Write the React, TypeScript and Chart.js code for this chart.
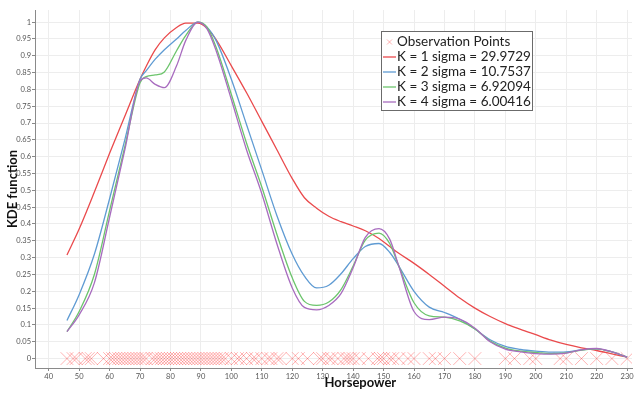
import React, { useEffect, useRef } from "react";
import { Chart, registerables } from "chart.js";

Chart.register(...registerables);

const hpGrid = [46, 50, 55, 60, 65, 70, 72, 75, 78, 82, 85, 89, 92, 95, 100, 105, 110, 115, 120, 124, 128, 132, 136, 140, 144, 148.5, 152, 155, 160, 165, 170, 175, 180, 185, 190, 195, 200, 205, 210, 215, 220, 225, 230];

const kdeK1 = [0.308, 0.385, 0.495, 0.61, 0.72, 0.83, 0.868, 0.918, 0.953, 0.984, 0.997, 0.997, 0.982, 0.948, 0.87, 0.79, 0.705, 0.62, 0.535, 0.478, 0.447, 0.423, 0.407, 0.394, 0.38, 0.357, 0.333, 0.313, 0.283, 0.25, 0.215, 0.18, 0.15, 0.125, 0.104, 0.087, 0.071, 0.055, 0.042, 0.032, 0.024, 0.014, 0.004];
const kdeK2 = [0.113, 0.19, 0.31, 0.475, 0.65, 0.83, 0.855, 0.89, 0.918, 0.95, 0.975, 1.0, 0.985, 0.945, 0.83, 0.695, 0.56, 0.424, 0.31, 0.245, 0.21, 0.218, 0.252, 0.297, 0.333, 0.342, 0.316, 0.275, 0.2, 0.153, 0.137, 0.117, 0.088, 0.056, 0.036, 0.027, 0.022, 0.019, 0.02, 0.026, 0.029, 0.02, 0.004];
const kdeK3 = [0.08, 0.14, 0.25, 0.44, 0.63, 0.82, 0.838, 0.843, 0.852, 0.915, 0.96, 1.0, 0.985, 0.925, 0.785, 0.64, 0.51, 0.368, 0.24, 0.17, 0.158, 0.168, 0.205, 0.275, 0.352, 0.373, 0.342, 0.275, 0.166, 0.127, 0.123, 0.112, 0.088, 0.052, 0.031, 0.022, 0.018, 0.015, 0.017, 0.025, 0.029, 0.02, 0.004];
const kdeK4 = [0.08, 0.13, 0.225, 0.42, 0.62, 0.825, 0.834, 0.815, 0.805, 0.87, 0.945, 1.0, 0.98, 0.915, 0.77, 0.62, 0.49, 0.34, 0.21, 0.152, 0.145, 0.158, 0.193, 0.27, 0.36, 0.386, 0.355, 0.275, 0.14, 0.116, 0.123, 0.117, 0.09, 0.05, 0.028, 0.02, 0.015, 0.013, 0.016, 0.026, 0.03, 0.02, 0.004];

// Observed horsepower values (crosses on the zero line)
const observations = [46, 48, 49, 52, 53, 54, 58, 60, 61, 62, 63, 64, 65, 66, 67, 68, 69, 70, 71, 72, 74, 75, 76, 77, 78, 79, 80, 81, 82, 83, 84, 85, 86, 87, 88, 89, 90, 91, 92, 93, 94, 95, 96, 97, 98, 100, 102, 103, 105, 107, 108, 110, 112, 113, 115, 116, 120, 122, 125, 129, 130, 132, 133, 135, 137, 138, 139, 140, 142, 145, 148, 149, 150, 152, 153, 155, 158, 160, 165, 167, 170, 175, 180, 190, 193, 198, 200, 208, 210, 215, 220, 225, 230];

const obsLabel = "Observation Points";
const seriesLabels = ["K = 1 sigma = 29.9729", "K = 2 sigma = 10.7537", "K = 3 sigma = 6.92094", "K = 4 sigma = 6.00416"];
const seriesValues = [kdeK1, kdeK2, kdeK3, kdeK4];
const seriesColors = ["#ea4a4c", "#5f9bd3", "#6cc46c", "#a86cbf"];
const obsColor = "rgba(255,0,0,0.3)";

const xTitle = "Horsepower";
const yTitle = "KDE function";

const FONT = "Lato, 'Open Sans', sans-serif";

const overlayPlugin = {
  id: "overlay",
  afterDraw(chart: any) {
    const ctx = chart.ctx;
    const area = chart.chartArea;
    ctx.save();
    // axis titles
    ctx.fillStyle = "#111";
    ctx.font = `bold 13px ${FONT}`;
    ctx.textAlign = "center";
    ctx.textBaseline = "middle";
    ctx.fillText(xTitle, area.left + (area.right - area.left) * 0.545, 383);
    ctx.save();
    ctx.translate(12.5, (area.top + area.bottom) / 2);
    ctx.rotate(-Math.PI / 2);
    ctx.fillText(yTitle, 0, 0);
    ctx.restore();

    // legend box
    const bx = 381.5, by = 31.5, bw = 151, bh = 79;
    ctx.fillStyle = "#fff";
    ctx.fillRect(bx, by, bw, bh);
    ctx.strokeStyle = "#6b6b6b";
    ctx.lineWidth = 1;
    ctx.strokeRect(bx, by, bw, bh);
    ctx.font = `13.5px ${FONT}`;
    ctx.textAlign = "left";
    ctx.textBaseline = "middle";
    const rowY = (i: number) => 42 + i * 15;
    // observation marker
    ctx.strokeStyle = "rgba(255,0,0,0.3)";
    ctx.beginPath();
    ctx.moveTo(387, rowY(0) - 2.5);
    ctx.lineTo(392, rowY(0) + 2.5);
    ctx.moveTo(392, rowY(0) - 2.5);
    ctx.lineTo(387, rowY(0) + 2.5);
    ctx.stroke();
    ctx.fillStyle = "#222";
    ctx.fillText(obsLabel, 397, rowY(0));
    seriesLabels.forEach((lab, i) => {
      const y = rowY(i + 1);
      ctx.strokeStyle = seriesColors[i];
      ctx.lineWidth = 1.3;
      ctx.beginPath();
      ctx.moveTo(383, y);
      ctx.lineTo(396, y);
      ctx.stroke();
      ctx.fillStyle = "#222";
      ctx.fillText(lab, 397, y);
    });
    ctx.restore();
  },
};

export default function App() {
  const ref = useRef<HTMLCanvasElement | null>(null);
  useEffect(() => {
    if (!ref.current) return;
    Chart.defaults.font.family = FONT;
    const datasets: any[] = [
      {
        label: obsLabel,
        data: observations.map((h) => ({ x: h, y: 0 })),
        showLine: false,
        pointStyle: "crossRot",
        pointRadius: 9,
        pointBorderWidth: 1,
        pointBorderColor: obsColor,
        pointBackgroundColor: obsColor,
        borderColor: obsColor,
        order: 10,
      },
      ...seriesValues.map((vals, i) => ({
        label: seriesLabels[i],
        data: hpGrid.map((h, j) => ({ x: h, y: vals[j] })),
        borderColor: seriesColors[i],
        borderWidth: 1.3,
        pointRadius: 0,
        fill: false,
        cubicInterpolationMode: "monotone",
        order: 5 - i,
      })),
    ];
    const chart = new Chart(ref.current, {
      type: "line",
      data: { datasets },
      plugins: [overlayPlugin],
      options: {
        animation: false,
        responsive: true,
        maintainAspectRatio: false,
        layout: { padding: { top: 3, right: 1, left: 0, bottom: 0 } },
        plugins: { legend: { display: false }, tooltip: { enabled: false } },
        scales: {
          x: {
            type: "linear",
            min: 35.5,
            max: 231.6,
            afterFit: (s: any) => { s.height = 26; },
            ticks: {
              stepSize: 10,
              includeBounds: false,
              autoSkip: false,
              maxRotation: 0,
              padding: 1,
              color: "#555",
              font: { size: 7.5, family: FONT },
            },
            grid: { color: "#ededed", tickLength: 3, tickColor: "#888", lineWidth: 1 },
            border: { display: true, color: "#8a8a8a" },
          },
          y: {
            type: "linear",
            min: -0.028,
            max: 1.036,
            afterFit: (s: any) => { s.width = 35; },
            ticks: {
              stepSize: 0.05,
              includeBounds: false,
              autoSkip: false,
              padding: 1,
              color: "#555",
              font: { size: 7.5, family: FONT },
              callback: (v: any) => String(Number(Number(v).toFixed(2))),
            },
            grid: { color: "#ededed", tickLength: 3, tickColor: "#888", lineWidth: 1 },
            border: { display: true, color: "#8a8a8a" },
          },
        },
      } as any,
    });
    return () => chart.destroy();
  }, []);
  return (
    <div style={{ position: "fixed", left: 0, top: 0, width: 642, height: 394, background: "#fff" }}>
      <canvas ref={ref} />
    </div>
  );
}
